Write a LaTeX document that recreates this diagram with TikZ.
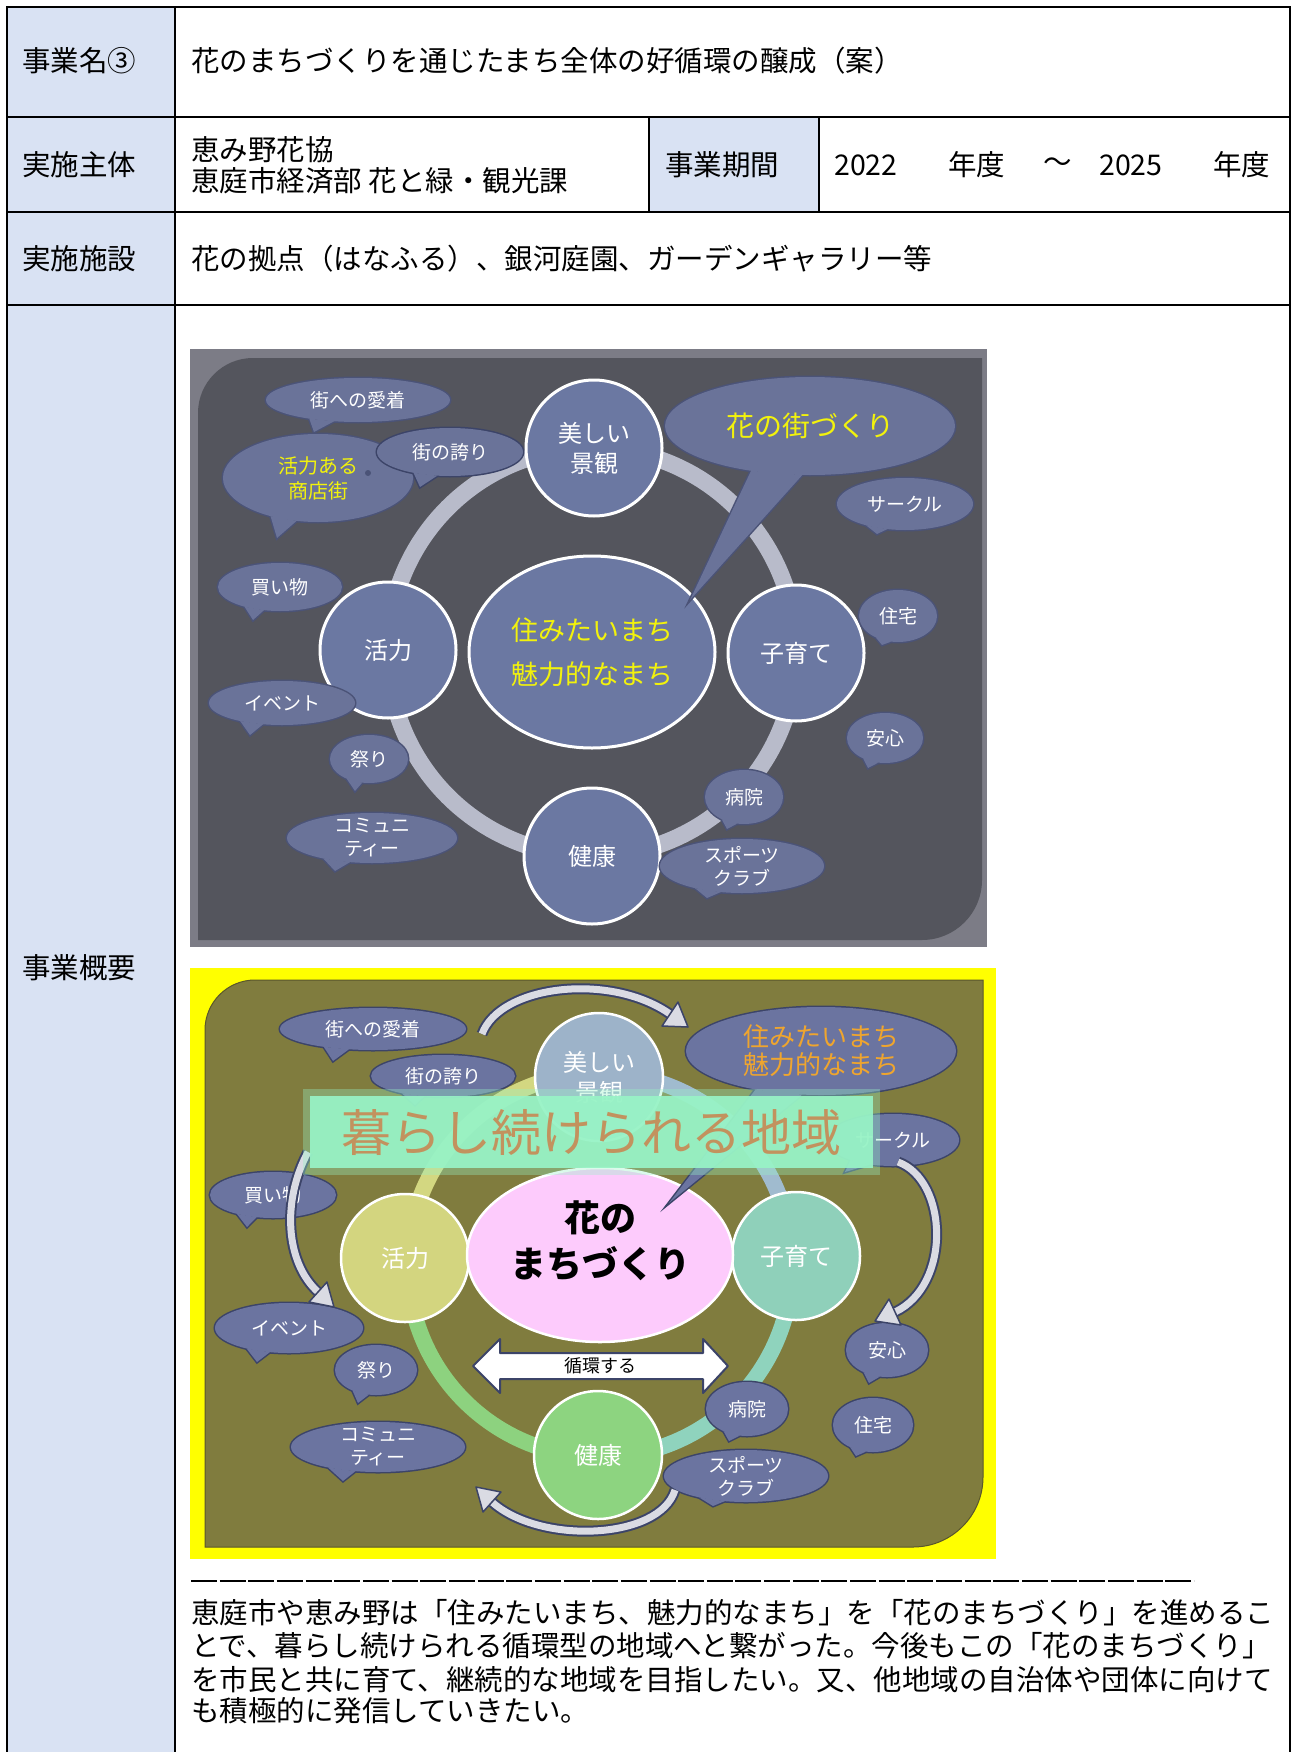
\documentclass[tikz,border=0pt]{standalone}
\usepackage{fontspec}
\setmainfont{Noto Sans CJK JP}
\usetikzlibrary{calc,shapes.geometric}
\definecolor{hdr}{HTML}{D9E2F3}
\definecolor{fr1}{HTML}{7C7C86}
\definecolor{bg1}{HTML}{54555D}
\definecolor{ring1}{HTML}{B8BBCA}
\definecolor{cir1}{HTML}{6B78A2}
\definecolor{bubAf}{HTML}{6A7399}
\definecolor{bubAo}{HTML}{4B5377}
\definecolor{bubBf}{HTML}{6B74A0}
\definecolor{bubBo}{HTML}{3C4468}
\definecolor{ylw}{HTML}{F2F20C}
\definecolor{yelbg}{HTML}{FFFF00}
\definecolor{olv}{HTML}{807C3E}
\definecolor{rA}{HTML}{D3D781}
\definecolor{rB}{HTML}{8DD27F}
\definecolor{rC}{HTML}{8FD3BD}
\definecolor{rD}{HTML}{A0BBCF}
\definecolor{cA}{HTML}{9DB3C9}
\definecolor{cB}{HTML}{D3D57F}
\definecolor{cC}{HTML}{8FD0BA}
\definecolor{cD}{HTML}{8DD480}
\definecolor{pnk}{HTML}{FDCBFC}
\definecolor{org}{HTML}{EFA52E}
\definecolor{mint}{HTML}{98F3C6}
\definecolor{tan}{HTML}{C2925E}
\definecolor{arl}{HTML}{DADBE3}
\colorlet{bubf}{bubAf}
\colorlet{bubo}{bubAo}
\newcommand\mybub[9]{%
 \path[bubline] (#2,#3) ellipse[x radius=#4, y radius=#5];
 \path[bubline] ($(#2,#3)+({#4*cos(#6)},{#5*sin(#6)})$) -- #8 -- ($(#2,#3)+({#4*cos(#7)},{#5*sin(#7)})$) -- cycle;
 \path[bubfill] ($(#2,#3)+({#4*cos(#6)},{#5*sin(#6)})$) -- #8 -- ($(#2,#3)+({#4*cos(#7)},{#5*sin(#7)})$) -- cycle;
 \path[bubfill] (#2,#3) ellipse[x radius=#4, y radius=#5];
 \node[bubtext] (#1) at (#2,#3) {#9};
}
\begin{document}
\begin{tikzpicture}[x=1pt,y=-1pt,
 tbl/.style={line width=2.5pt, draw=black},
 cell/.style={anchor=west, inner sep=0pt, font=\fontsize{28.5}{33}\selectfont},
 bubline/.style={fill=bubo, draw=bubo, line width=3pt},
 bubfill/.style={fill=bubf},
 bubtext/.style={text=white, align=center, inner sep=0pt, font=\fontsize{19}{23}\selectfont},
 cirA/.style={circle, draw=white, line width=3pt, fill=cir1, minimum size=136pt, inner sep=0pt, text=white, align=center, font=\fontsize{24}{30}\selectfont},
 cirB/.style={circle, draw=white, line width=2.5pt, minimum size=128pt, inner sep=0pt, text=white, align=center, font=\fontsize{24}{30}\selectfont},
 arrowout/.style={draw=bubBo, line width=11pt},
 arrowin/.style={draw=arl, line width=7pt},
 headst/.style={fill=arl, draw=bubBo, line width=1.5pt, line join=round}]
\useasboundingbox (0,0) rectangle (1292,1752);
\fill[white] (0,0) rectangle (1292,1752);
% ---------- table ----------
\fill[hdr] (7,7) rectangle (175,1752);
\fill[hdr] (649,117) rectangle (819,212);
\draw[tbl] (7,1752) -- (7,7) -- (1290,7) -- (1290,1752);
\draw[tbl] (175,7) -- (175,1752);
\draw[tbl] (7,117) -- (1290,117);
\draw[tbl] (7,212) -- (1290,212);
\draw[tbl] (7,305) -- (1290,305);
\draw[tbl] (649,117) -- (649,212);
\draw[tbl] (819,117) -- (819,212);
\node[cell] (l1) at (22,61) {事業名③};
\node[cell] (v1) at (191,61) {花のまちづくりを通じたまち全体の好循環の醸成（案）};
\node[cell] (l2) at (22,165) {実施主体};
\node[cell] (v2a) at (191,150) {恵み野花協};
\node[cell] (v2b) at (191,181) {恵庭市経済部 花と緑・観光課};
\node[cell] (l2b) at (665,165) {事業期間};
\node[cell] (y1) at (834,165) {2022};
\node[cell] (y1n) at (948,165) {年度};
\node[cell] (ysep) at (1043,165) {～};
\node[cell] (y2) at (1099,165) {2025};
\node[cell] (y2n) at (1213,165) {年度};
\node[cell] (l3) at (22,259) {実施施設};
\node[cell] (v3) at (191,259) {花の拠点（はなふる）、銀河庭園、ガーデンギャラリー等};
\node[cell] (l4) at (22,968) {事業概要};
% ---------- image 1 ----------
\fill[fr1] (190,349) rectangle (987,947);
\fill[bg1] (198,940) -- (198,413) arc[start angle=180,end angle=270,radius=55] -- (982,358) -- (982,880) arc[start angle=0,end angle=90,radius=60] -- cycle;
\draw[ring1, line width=17pt] (592,652) circle[radius=204];
\node[ellipse, fill=cir1, draw=white, line width=3pt, minimum width=246pt, minimum height=192pt, inner sep=0pt, align=center, text=ylw, font=\fontsize{27}{44}\selectfont] (m1) at (592,652) {住みたいまち\\魅力的なまち};
\node[cirA] (k1) at (594,448) {美しい\\景観};
\node[cirA] (k2) at (388,650) {活力};
\node[cirA] (k3) at (796,653) {子育て};
\node[cirA] (k4) at (592,856) {健康};
\mybub{a1}{358}{400}{92}{22}{105}{122}{(314,432)}{街への愛着}
\begin{scope}[bubtext/.append style={text=ylw, font=\fontsize{20}{25}\selectfont}]
\mybub{a2}{318}{478}{95}{44}{103}{120}{(277,538)}{活力ある\\商店街}
\end{scope}
\fill[bubo] (368,473) circle[radius=3];
\colorlet{bubo}{bubBo}
\mybub{a3}{450}{452}{73}{24}{100}{120}{(420,487)}{街の誇り}
\colorlet{bubo}{bubAo}
\mybub{a4}{280}{587}{62}{24}{105}{125}{(253,620)}{買い物}
\mybub{a5}{282}{703}{73}{22}{105}{125}{(250,735)}{イベント}
\mybub{a6}{369}{759}{39}{24}{100}{125}{(355,791)}{祭り}
\mybub{a7}{372}{838}{85}{25}{105}{125}{(335,871)}{コミュニ\\ティー}
\begin{scope}[bubtext/.append style={text=ylw, font=\fontsize{28}{32}\selectfont}]
\mybub{a8}{810}{426}{145}{49}{93}{114}{(690,600)}{花の街づくり}
\end{scope}
\mybub{a9}{905}{504}{68}{26}{105}{125}{(877,534)}{サークル}
\mybub{a10}{898}{616}{39}{26}{100}{125}{(882,645)}{住宅}
\mybub{a11}{885}{738}{38}{25}{100}{125}{(868,768)}{安心}
\mybub{a12}{744}{797}{39}{27}{100}{125}{(727,829)}{病院}
\mybub{a13}{742}{866}{82}{27}{105}{125}{(707,898)}{スポーツ\\クラブ}
% ---------- image 2 ----------
\colorlet{bubf}{bubBf}
\colorlet{bubo}{bubBo}
\fill[yelbg] (190,968) rectangle (996,1559);
\filldraw[fill=olv, draw=olv!70!black, line width=1pt] (205,1547) -- (205,1030) arc[start angle=180,end angle=270,radius=50] -- (983,980) -- (983,1477) arc[start angle=0,end angle=90,radius=70] -- cycle;
\draw[rA, line width=16pt] (600,1265) ++(180:192) arc[start angle=180,end angle=270,radius=192];
\draw[rB, line width=16pt] (600,1265) ++(90:192) arc[start angle=90,end angle=180,radius=192];
\draw[rC, line width=16pt] (600,1265) ++(0:192) arc[start angle=0,end angle=90,radius=192];
\draw[rD, line width=16pt] (600,1265) ++(270:192) arc[start angle=270,end angle=360,radius=192];
\node[cirB, fill=cA] (q1) at (599,1077) {美しい\\景観};
\node[cirB, fill=cB] (q2) at (405,1258) {活力};
\node[cirB, fill=cC] (q3) at (796,1256) {子育て};
\node[cirB, fill=cD] (q4) at (598,1455) {健康};
\node[ellipse, fill=pnk, draw=white, line width=2.5pt, minimum width=266pt, minimum height=174pt, inner sep=0pt] (m2) at (600,1255) {};
\node[align=center, inner sep=0pt, font=\bfseries\fontsize{36}{46}\selectfont] (m2t) at (600,1241) {花の\\まちづくり};
\mybub{b1}{373}{1029}{93}{21}{105}{122}{(333,1061)}{街への愛着}
\mybub{b2}{443}{1076}{72}{21}{105}{125}{(415,1105)}{街の誇り}
\mybub{b3}{273}{1195}{63}{23}{105}{125}{(247,1227)}{買い物}
\mybub{b4}{289}{1328}{74}{25}{105}{125}{(257,1362)}{イベント}
\mybub{b5}{376}{1370}{41}{25}{100}{125}{(358,1403)}{祭り}
\mybub{b6}{378}{1447}{87}{25}{105}{125}{(343,1481)}{コミュニ\\ティー}
\mybub{b7}{893}{1140}{66}{26}{110}{130}{(845,1172)}{サークル}
\mybub{b8}{747}{1409}{41}{27}{100}{125}{(729,1441)}{病院}
\mybub{b9}{887}{1350}{41}{27}{100}{125}{(869,1383)}{安心}
\mybub{b10}{873}{1425}{40}{27}{100}{125}{(856,1456)}{住宅}
\mybub{b11}{746}{1476}{82}{26}{105}{125}{(713,1506)}{スポーツ\\クラブ}
\begin{scope}[bubtext/.append style={text=org, font=\fontsize{26}{28}\selectfont}]
\mybub{b12}{821}{1051}{135}{44}{98}{119}{(669,1203)}{住みたいまち\\魅力的なまち}
\end{scope}
% double arrow
\filldraw[fill=white, draw=bubBo, line width=2pt, line join=round] (473,1366) -- (500,1339) -- (500,1353) -- (703,1353) -- (703,1339) -- (728,1366) -- (703,1393) -- (703,1379) -- (500,1379) -- (500,1393) -- cycle;
\node[inner sep=0pt, font=\fontsize{18}{20}\selectfont] (cyc) at (600,1366) {循環する};
% curved arrows
\coordinate (ta1) at (482,1034); \coordinate (ta2) at (670,1014);
\draw[arrowout] (ta1) .. controls (500,985) and (610,972) .. (ta2);
\draw[arrowin] (ta1) .. controls (500,985) and (610,972) .. (ta2);
\filldraw[headst] (662,1026) -- (688,1027) -- (678,1002) -- cycle;
\coordinate (ra1) at (898,1162); \coordinate (ra2) at (895,1312);
\draw[arrowout] (ra1) .. controls (948,1180) and (952,1285) .. (ra2);
\draw[arrowin] (ra1) .. controls (948,1180) and (952,1285) .. (ra2);
\filldraw[headst] (901,1325) -- (875,1321) -- (889,1299) -- cycle;
\coordinate (la1) at (308,1152); \coordinate (la2) at (318,1292);
\draw[arrowout] (la1) .. controls (282,1200) and (285,1262) .. (la2);
\draw[arrowin] (la1) .. controls (282,1200) and (285,1262) .. (la2);
\filldraw[headst] (309,1302) -- (334,1307) -- (327,1282) -- cycle;
\coordinate (ba1) at (675,1490); \coordinate (ba2) at (492,1502);
\draw[arrowout] (ba1) .. controls (660,1540) and (540,1545) .. (ba2);
\draw[arrowin] (ba1) .. controls (660,1540) and (540,1545) .. (ba2);
\filldraw[headst] (501,1492) -- (476,1487) -- (483,1512) -- cycle;
% banner
\fill[mint, opacity=0.35] (303,1089) rectangle (880,1175);
\node[fill=mint, fill opacity=0.93, text opacity=1, minimum width=563pt, minimum height=72pt, inner sep=0pt, text=tan, font=\fontsize{50}{54}\selectfont] (ban) at (591.5,1132) {暮らし続けられる地域};
% ---------- text below ----------
\draw[line width=2.5pt, dash pattern=on 26pt off 2.657pt] (191,1581) -- (1194,1581);
\node[cell] (p1) at (191,1613) {恵庭市や恵み野は「住みたいまち、魅力的なまち」を「花のまちづくり」を進めるこ};
\node[cell] (p2) at (191,1646) {とで、暮らし続けられる循環型の地域へと繋がった。今後もこの「花のまちづくり」};
\node[cell] (p3) at (191,1680) {を市民と共に育て、継続的な地域を目指したい。又、他地域の自治体や団体に向けて};
\node[cell] (p4) at (191,1711) {も積極的に発信していきたい。};
\end{tikzpicture}
\end{document}
